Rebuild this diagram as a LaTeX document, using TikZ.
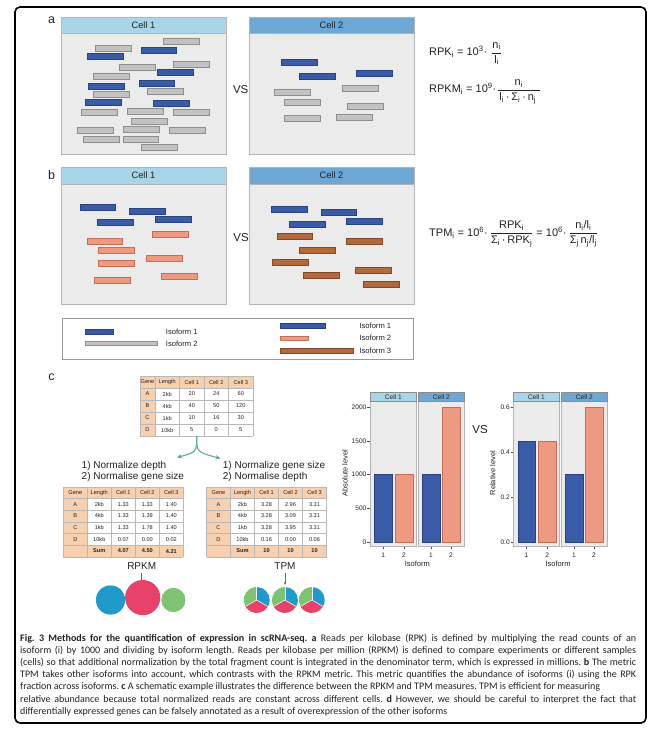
\documentclass[tikz,border=0pt]{standalone}
\usepackage{fontspec}
\setmainfont{Liberation Sans}
\newfontfamily\capfont{Carlito}
\usetikzlibrary{arrows.meta}
\definecolor{panelbg}{HTML}{EBEBEB}
\definecolor{panelbd}{HTML}{B4B4B4}
\definecolor{stripbd}{HTML}{8C8C8C}
\definecolor{hdrA}{HTML}{A8D5E8}
\definecolor{hdrB}{HTML}{6DA7D5}
\definecolor{isoblue}{HTML}{3A5BA8}
\definecolor{isobluebd}{HTML}{2A437E}
\definecolor{isogray}{HTML}{C2C2C2}
\definecolor{isograybd}{HTML}{8E8E8E}
\definecolor{isosalmon}{HTML}{EE9A82}
\definecolor{isosalmonbd}{HTML}{C26F58}
\definecolor{isobrown}{HTML}{B26A3C}
\definecolor{isobrownbd}{HTML}{83482A}
\definecolor{peach}{HTML}{F7D0AF}
\definecolor{gridc}{HTML}{B8B8B8}
\definecolor{forkteal}{HTML}{5EA8A2}
\definecolor{cblue}{HTML}{1F9BCB}
\definecolor{cpink}{HTML}{E8426B}
\definecolor{cgreen}{HTML}{7DC371}
\definecolor{textc}{HTML}{222222}
\newcommand\isobars[2]{\foreach \bx/\by in {#2} {\draw[#1] (\bx,\by) rectangle ++(35.7,6.2);}}
\newcommand\lowtable[6]{%
\begin{scope}[shift={(#1,0)}]
 \fill[peach] (0,486.7) rectangle (120,498.4);
 \fill[peach] (0,498.4) rectangle (24,556.9);
 \fill[peach] (24,545.2) rectangle (120,556.9);
 \fill[white] (24,498.4) rectangle (120,545.2);
 \foreach \k in {0,...,6} \draw[gridc,line width=0.4] (0,{486.7+11.7*\k}) -- (120,{486.7+11.7*\k});
 \foreach \k in {0,...,5} \draw[gridc,line width=0.4] ({24*\k},486.7) -- ({24*\k},556.9);
 \foreach \va/\vb/\vc/\vd/\ve [count=\k from 0] in {Gene/Length/Cell 1/Cell 2/Cell 3,#3} {
   \node[tbl] (#2-\k-a) at (12,{492.55+11.7*\k}) {\va};
   \node[tbl] (#2-\k-b) at (36,{492.55+11.7*\k}) {\vb};
   \node[tbl] (#2-\k-c) at (60,{492.55+11.7*\k}) {\vc};
   \node[tbl] (#2-\k-d) at (84,{492.55+11.7*\k}) {\vd};
   \node[tbl] (#2-\k-e) at (108,{492.55+11.7*\k}) {\ve};
 }
 \node[tbl,font=\fontsize{5.6}{6}\selectfont\bfseries] (#2-s-b) at (36,551.05) {Sum};
 \node[tbl,font=\fontsize{5.6}{6}\selectfont\bfseries] (#2-s-c) at (60,551.05) {#4};
 \node[tbl,font=\fontsize{5.6}{6}\selectfont\bfseries] (#2-s-d) at (84,551.05) {#5};
 \node[tbl,font=\fontsize{5.6}{6}\selectfont\bfseries] (#2-s-e) at (108,551.05) {#6};
\end{scope}}
\begin{document}
\begin{tikzpicture}[x=1pt,y=-1pt,
  every node/.style={text=textc},
  cellhdr/.style={font=\fontsize{9.3}{10}\selectfont, inner sep=0},
  vs/.style={font=\fontsize{11.5}{12}\selectfont, inner sep=0},
  plabel/.style={font=\fontsize{12.5}{13}\selectfont, inner sep=0},
  formula/.style={font=\fontsize{11}{13}\selectfont, inner sep=0, anchor=west},
  legtext/.style={font=\fontsize{7.6}{8}\selectfont, inner sep=0, anchor=west},
  bluebar/.style={fill=isoblue, draw=isobluebd, line width=0.4},
  graybar/.style={fill=isogray, draw=isograybd, line width=0.4},
  salmonbar/.style={fill=isosalmon, draw=isosalmonbd, line width=0.4},
  brownbar/.style={fill=isobrown, draw=isobrownbd, line width=0.4},
  cellbody/.style={fill=panelbg, draw=panelbd, line width=0.5},
  tbl/.style={font=\fontsize{5.6}{6}\selectfont, inner sep=0},
  normtext/.style={font=\fontsize{10}{11}\selectfont, inner sep=0, anchor=west},
  metric/.style={font=\fontsize{10}{11}\selectfont, inner sep=0},
  strip/.style={font=\fontsize{6.6}{7}\selectfont, inner sep=0},
  ticklab/.style={font=\fontsize{6.6}{7}\selectfont, inner sep=0},
  axlab/.style={font=\fontsize{7.5}{8}\selectfont, inner sep=0},
  tickc/.style={draw=black!70, line width=0.4},
  fork/.style={draw=forkteal, line width=1.1, -{Stealth[length=5pt,width=4.5pt]}},
  thinarrow/.style={draw=black!60, line width=0.5, -{Stealth[length=3pt,width=2.5pt]}}
]
\useasboundingbox (0,0) rectangle (653,740);
\fill[white] (0,0) rectangle (653,740);
\draw[line width=1.6, rounded corners=5] (15,7) rectangle (646,723);

% ---------- panel a ----------
\node[plabel] (la) at (51.5,20) {a};
\draw[cellbody] (61,33) rectangle (226,154);
\draw[draw=panelbd, fill=hdrA, line width=0.5] (61,17) rectangle (226,33);
\node[cellhdr] (a1h) at (143.5,25.3) {Cell 1};
\draw[cellbody] (249,33) rectangle (414,154);
\draw[draw=panelbd, fill=hdrB, line width=0.5] (249,17) rectangle (414,33);
\node[cellhdr] (a2h) at (331.5,25.3) {Cell 2};
\node[vs] (avs) at (240.7,90) {VS};
\isobars{graybar}{163/38.3,95.3/45.3,173.3/60.7,119.3/64.3,93.3/73.3,147.3/88.3,93.3/91,81.3/109.3,127/108.3,173.3/109.3,131.3/117.7,77.3/127,123.3/126,169.3/127,83.3/136,122.7/136,141.3/144.3}
\isobars{bluebar}{140.7/46.7,87/53.3,157.3/69.3,138.7/80,88/83.3,85.3/98.7,153.3/100}
\isobars{bluebar}{281/58.7,299/73.3,356/70.3}
\isobars{graybar}{274/89.3,342/84.7,284/98.7,347.3/102.7,284/115.3,336/114.3}

\node[formula] (rpk) at (429,53.5) {RPK\textsubscript{i} = 10\textsuperscript{3}·\hspace{4pt}$\displaystyle\frac{\hbox{n\textsubscript{i}}}{\hbox{l\textsubscript{i}}}$};
\node[formula] (rpkm) at (429,91.5) {RPKM\textsubscript{i} = 10\textsuperscript{9}·$\displaystyle\frac{\hbox{n\textsubscript{i}}}{\hbox{\,l\textsubscript{i}\,·\,Σ\textsubscript{i}\,·\,n\textsubscript{j}\,\,}}$};

% ---------- panel b ----------
\node[plabel] (lb) at (51.5,175) {b};
\draw[cellbody] (61,184) rectangle (226,304);
\draw[draw=panelbd, fill=hdrA, line width=0.5] (61,167) rectangle (226,184);
\node[cellhdr] (b1h) at (143.5,175.5) {Cell 1};
\draw[cellbody] (249,184) rectangle (414,304);
\draw[draw=panelbd, fill=hdrB, line width=0.5] (249,167) rectangle (414,184);
\node[cellhdr] (b2h) at (331.5,175.5) {Cell 2};
\node[vs] (bvs) at (241,238) {VS};
\isobars{bluebar}{79.7/204,129/207.7,97.3/219.3,155/216}
\isobars{salmonbar}{152.3/231.3,86.7/238.3,98.3/247.3,146/255.3,98.3/260,161/273.3,94.3/276.7}
\isobars{bluebar}{271/205.7,320.7/208.7,289/221,346/218}
\isobars{brownbar}{276.7/233.3,346/238.3,299/247.3,272.3/259,355/266.7,303.3/271.7,363.3/281}

\node[formula] (tpm) at (429,234) {TPM\textsubscript{i} = 10\textsuperscript{6}·\hspace{2pt}$\displaystyle\frac{\hbox{RPK\textsubscript{i}}}{\hbox{Σ\textsubscript{i}\,·\,RPK\textsubscript{j}}}$ = 10\textsuperscript{6}·\hspace{2pt}$\displaystyle\frac{\hbox{n\textsubscript{i}/l\textsubscript{i}}}{\hbox{Σ\textsubscript{j}\,n\textsubscript{j}/l\textsubscript{j}}}$};

% ---------- legend ----------
\draw[draw=black!40, line width=0.5] (62,318) rectangle (413,359);
\draw[bluebar] (85,329.3) rectangle (112.7,334);
\draw[graybar] (85,340.7) rectangle (157.3,345.3);
\node[legtext] (lg1) at (165.7,332) {Isoform 1};
\node[legtext] (lg2) at (165.7,343.5) {Isoform 2};
\draw[bluebar] (280,323.3) rectangle (325,328);
\draw[salmonbar] (280,336) rectangle (307.7,340.3);
\draw[brownbar] (280,348) rectangle (352.7,352.7);
\node[legtext] (lg3) at (359.3,325.7) {Isoform 1};
\node[legtext] (lg4) at (359.3,338) {Isoform 2};
\node[legtext] (lg5) at (359.3,350.3) {Isoform 3};

% ---------- panel c : tables ----------
\node[plabel] (lc) at (51.5,377.5) {c};
\fill[peach] (140,376) rectangle (253,388);
\fill[peach] (140,388) rectangle (155,436);
\fill[white] (155,388) rectangle (253,436);
\foreach \yy in {376,388,400,412,424,436} \draw[gridc,line width=0.4] (140,\yy) -- (253,\yy);
\foreach \xx in {140,155,179.5,204,228.5,253} \draw[gridc,line width=0.4] (\xx,376) -- (\xx,436);
\foreach \va/\vb/\vc/\vd/\ve [count=\k from 0] in {Gene/Length/Cell 1/Cell 2/Cell 3,A/2kb/20/24/60,B/4kb/40/50/120,C/1kb/10/16/30,D/10kb/5/0/5} {
  \node[tbl] (top-\k-a) at (147.5,{382+12*\k}) {\va};
  \node[tbl] (top-\k-b) at (167.25,{382+12*\k}) {\vb};
  \node[tbl] (top-\k-c) at (191.75,{382+12*\k}) {\vc};
  \node[tbl] (top-\k-d) at (216.25,{382+12*\k}) {\vd};
  \node[tbl] (top-\k-e) at (240.75,{382+12*\k}) {\ve};
}
\coordinate (forktop) at (196.7,436.5);
\coordinate (forkL) at (177,457.5);
\coordinate (forkR) at (220.5,458.5);
\draw[fork] (forktop) .. controls (196.7,452) .. (forkL);
\draw[fork] (forktop) .. controls (196.7,452) .. (forkR);

\node[normtext] (nl1) at (81.5,465.8) {1) Normalize depth};
\node[normtext] (nl2) at (81.5,477.2) {2) Normalise gene size};
\node[normtext] (nr1) at (222.7,465.8) {1) Normalize gene size};
\node[normtext] (nr2) at (222.7,477.2) {2) Normalise depth};

\lowtable{63.3}{rp}{A/2kb/1.33/1.33/1.40,B/4kb/1.33/1.39/1.40,C/1kb/1.33/1.78/1.40,D/10kb/0.07/0.00/0.02}{4.07}{4.50}{4.21}
\lowtable{206.5}{tp}{A/2kb/3.28/2.96/3.31,B/4kb/3.28/3.09/3.31,C/1kb/3.28/3.95/3.31,D/10kb/0.16/0.00/0.06}{10}{10}{10}

\node[metric] (rpkmlab) at (141.7,566) {RPKM};
\node[metric] (tpmlab) at (285,566) {TPM};
\coordinate (rpkmtip) at (141.7,585);
\coordinate (tpmtip) at (285,585);
\draw[thinarrow] (rpkmlab.south) ++(0,3) -- (rpkmtip);
\draw[thinarrow] (tpmlab.south) ++(0,3) -- (tpmtip);

\fill[cblue] (110.5,600) circle (14.6);
\fill[cpink] (142.7,597.6) circle (17.6);
\fill[cgreen] (173.4,600) circle (12.1);

\foreach \cx in {256.7,284.9,311.8} {
  \fill[cblue] (\cx,600) -- ++(-90:13) arc (-90:30:13) -- cycle;
  \fill[cpink] (\cx,600) -- ++(30:13) arc (30:150:13) -- cycle;
  \fill[cgreen] (\cx,600) -- ++(150:13) arc (150:270:13) -- cycle;
  \draw[white, line width=0.5] (\cx,600) -- ++(-90:13);
  \draw[white, line width=0.5] (\cx,600) -- ++(30:13);
  \draw[white, line width=0.5] (\cx,600) -- ++(150:13);
}

% ---------- bar charts ----------
\draw[cellbody] (370,401.7) rectangle (416.7,546.7);
\draw[cellbody] (418.3,401.7) rectangle (464.3,546.7);
\draw[draw=stripbd, fill=hdrA, line width=0.5] (370,392.7) rectangle (416.7,401.7);
\draw[draw=stripbd, fill=hdrB, line width=0.5] (418.3,392.7) rectangle (464.3,401.7);
\node[strip] (lc1) at (393.35,397.3) {Cell 1};
\node[strip] (lc2) at (441.3,397.3) {Cell 2};
\draw[bluebar] (374.3,542.3) rectangle (392,474.65);
\draw[salmonbar] (395,542.3) rectangle (412.7,474.65);
\draw[bluebar] (422,542.3) rectangle (439.7,474.65);
\draw[salmonbar] (442,542.3) rectangle (459.7,407);
\foreach \v [count=\k from 0] in {0,500,1000,1500,2000} {
  \draw[tickc] (367.3,{542.3-\v*0.06765}) -- (370,{542.3-\v*0.06765});
  \node[ticklab, anchor=east] (ly\k) at (366.6,{542.3-\v*0.06765}) {\v};
}
\foreach \xx/\lab [count=\k] in {383.15/1,403.85/2,430.85/1,450.85/2} {
  \draw[tickc] (\xx,546.7) -- (\xx,549.2);
  \node[ticklab] (lx\k) at (\xx,555.2) {\lab};
}
\node[axlab] (lxt) at (417.3,563.6) {Isoform};
\node[axlab, rotate=90] (lyt) at (345,473) {Absolute level};

\node[vs] (cvs) at (480,429.3) {VS};

\draw[cellbody] (513.3,401.7) rectangle (559.3,546.7);
\draw[cellbody] (561,401.7) rectangle (607.7,546.7);
\draw[draw=stripbd, fill=hdrA, line width=0.5] (513.3,392.7) rectangle (559.3,401.7);
\draw[draw=stripbd, fill=hdrB, line width=0.5] (561,392.7) rectangle (607.7,401.7);
\node[strip] (rc1) at (536.3,397.3) {Cell 1};
\node[strip] (rc2) at (584.35,397.3) {Cell 2};
\draw[bluebar] (517.7,542.3) rectangle (535,440.8);
\draw[salmonbar] (538.3,542.3) rectangle (556,440.8);
\draw[bluebar] (565,542.3) rectangle (582.7,474.65);
\draw[salmonbar] (585.3,542.3) rectangle (602.7,407);
\foreach \v/\lab [count=\k from 0] in {0/0.0,0.2/0.2,0.4/0.4,0.6/0.6} {
  \draw[tickc] (510.6,{542.3-\v*225.5}) -- (513.3,{542.3-\v*225.5});
  \node[ticklab, anchor=east] (ry\k) at (509.9,{542.3-\v*225.5}) {\lab};
}
\foreach \xx/\lab [count=\k] in {526.35/1,547.15/2,573.85/1,594/2} {
  \draw[tickc] (\xx,546.7) -- (\xx,549.2);
  \node[ticklab] (rx\k) at (\xx,555.2) {\lab};
}
\node[axlab] (rxt) at (558,563.6) {Isoform};
\node[axlab, rotate=90] (ryt) at (492.7,473) {Relative level};

% ---------- caption ----------
\node[anchor=north west, inner sep=0, text width=616pt, align=justify,
      font=\capfont\fontsize{10}{12.1}\selectfont\frenchspacing] (caption) at (20,634)
{\textbf{Fig.~3 Methods for the quantification of expression in scRNA-seq. a} Reads per kilobase (RPK) is defined by multiplying the read counts of an\linebreak
isoform (i) by 1000 and dividing by isoform length. Reads per kilobase per million (RPKM) is defined to compare experiments or different samples\linebreak
(cells) so that additional normalization by the total fragment count is integrated in the denominator term, which is expressed in millions. \textbf{b} The metric\linebreak
TPM takes other isoforms into account, which contrasts with the RPKM metric. This metric quantifies the abundance of isoforms (i) using the RPK\linebreak
fraction across isoforms. \textbf{c} A schematic example illustrates the difference between the RPKM and TPM measures. TPM is efficient for measuring\hspace*{\fill}\null\linebreak
relative abundance because total normalized reads are constant across different cells. \textbf{d} However, we should be careful to interpret the fact that\linebreak
differentially expressed genes can be falsely annotated as a result of overexpression of the other isoforms};
\end{tikzpicture}
\end{document}
